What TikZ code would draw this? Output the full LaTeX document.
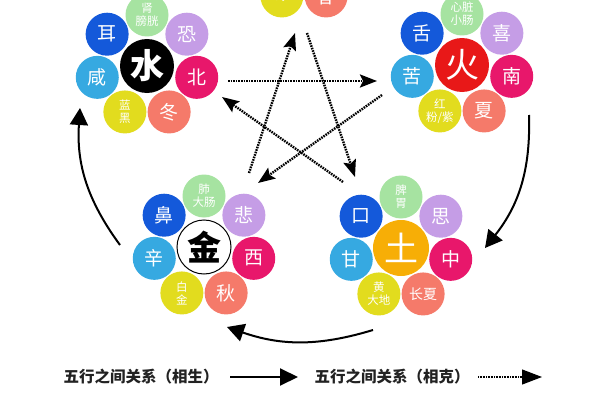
\documentclass[tikz,border=0pt]{standalone}
\usepackage{fontspec}
\setmainfont{Noto Sans CJK SC}
\usetikzlibrary{arrows.meta}
\definecolor{cgreen}{HTML}{A6E3A1}
\definecolor{cpurple}{HTML}{C59DE6}
\definecolor{cpink}{HTML}{E8176B}
\definecolor{csalmon}{HTML}{F57A6A}
\definecolor{cyellow}{HTML}{E2DC1E}
\definecolor{ccyan}{HTML}{36A9E1}
\definecolor{cblue}{HTML}{1459DA}
\definecolor{cred}{HTML}{E81818}
\definecolor{corange}{HTML}{F7AE06}
\definecolor{ctext}{HTML}{222222}
\begin{document}
\begin{tikzpicture}[x=1pt,y=1pt,
  sat/.style={circle, minimum size=43pt, inner sep=0pt, text=white,
    font=\fontsize{19}{19}\selectfont, align=center},
  two/.style={font=\fontsize{11.5}{13}\selectfont},
  mid/.style={font=\fontsize{14}{14}\selectfont},
  core/.style={circle, minimum size=54pt, inner sep=0pt, text=white,
    font=\fontsize{34}{34}\selectfont},
  solidarr/.style={line width=2pt, -{Triangle[length=17pt,width=18pt]}},
  dotarr/.style={line width=2.4pt, dash pattern=on 1.6pt off 1.0pt,
    -{Stealth[length=17pt,width=13pt,inset=3pt]}},
  legtext/.style={text=ctext, font=\fontsize{15.5}{15.5}\selectfont\bfseries}
]
\useasboundingbox (0,0) rectangle (600,400);
\fill[white] (0,0) rectangle (600,400);
\clip (0,0) rectangle (600,400);

% ---------- Water cluster ----------
\node[core, fill=black, font=\fontsize{34}{34}\selectfont\bfseries] (W) at (147,334) {水};
\node[sat, fill=cgreen, two]   (W1) at ([shift={(90:51)}]W) {肾\\膀胱};
\node[sat, fill=cpurple]       (W2) at ([shift={(38.57:51)}]W) {恐};
\node[sat, fill=cpink]         (W3) at ([shift={(-12.86:51)}]W) {北};
\node[sat, fill=csalmon]       (W4) at ([shift={(-64.29:51)}]W) {冬};
\node[sat, fill=cyellow, two]  (W5) at ([shift={(-115.71:51)}]W) {蓝\\黑};
\node[sat, fill=ccyan]         (W6) at ([shift={(-167.14:51)}]W) {咸};
\node[sat, fill=cblue]         (W7) at ([shift={(141.43:51)}]W) {耳};

% ---------- Fire cluster ----------
\node[core, fill=cred] (F) at (462,335) {火};
\node[sat, fill=cgreen, two]   (F1) at ([shift={(90:51)}]F) {心脏\\小肠};
\node[sat, fill=cpurple]       (F2) at ([shift={(38.57:51)}]F) {喜};
\node[sat, fill=cpink]         (F3) at ([shift={(-12.86:51)}]F) {南};
\node[sat, fill=csalmon]       (F4) at ([shift={(-64.29:51)}]F) {夏};
\node[sat, fill=cyellow, two]  (F5) at ([shift={(-115.71:51)}]F) {红\\粉/紫};
\node[sat, fill=ccyan]         (F6) at ([shift={(-167.14:51)}]F) {苦};
\node[sat, fill=cblue]         (F7) at ([shift={(141.43:51)}]F) {舌};

% ---------- Metal cluster ----------
\node[core, fill=white, draw=black, line width=1pt, text=black,
  font=\fontsize{34}{34}\selectfont\bfseries] (M) at (204,153) {金};
\node[sat, fill=cgreen, two]   (M1) at ([shift={(90:51)}]M) {肺\\大肠};
\node[sat, fill=cpurple]       (M2) at ([shift={(38.57:51)}]M) {悲};
\node[sat, fill=cpink]         (M3) at ([shift={(-12.86:51)}]M) {西};
\node[sat, fill=csalmon]       (M4) at ([shift={(-64.29:51)}]M) {秋};
\node[sat, fill=cyellow, two]  (M5) at ([shift={(-115.71:51)}]M) {白\\金};
\node[sat, fill=ccyan]         (M6) at ([shift={(-167.14:51)}]M) {辛};
\node[sat, fill=cblue]         (M7) at ([shift={(141.43:51)}]M) {鼻};

% ---------- Earth cluster ----------
\node[core, fill=corange, minimum size=56pt] (E) at (401,152) {土};
\node[sat, fill=cgreen, two]   (E1) at ([shift={(90:51)}]E) {脾\\胃};
\node[sat, fill=cpurple]       (E2) at ([shift={(38.57:51)}]E) {思};
\node[sat, fill=cpink]         (E3) at ([shift={(-12.86:51)}]E) {中};
\node[sat, fill=csalmon, mid]  (E4) at ([shift={(-64.29:51)}]E) {长夏};
\node[sat, fill=cyellow, two]  (E5) at ([shift={(-115.71:51)}]E) {黄\\大地};
\node[sat, fill=ccyan]         (E6) at ([shift={(-167.14:51)}]E) {甘};
\node[sat, fill=cblue]         (E7) at ([shift={(141.43:51)}]E) {口};

% ---------- Wood cluster (mostly off the top edge) ----------
\coordinate (T) at (304,450);
\node[sat, fill=cyellow, two] (T5) at ([shift={(-115.71:51)}]T) {\raisebox{-7pt}{绿}};
\node[sat, fill=csalmon]      (T4) at ([shift={(-64.29:51)}]T) {春};

% ---------- Generating cycle (solid) ----------
\coordinate (a1) at (120,155); \coordinate (b1) at (80,292);
\coordinate (a2) at (529,285); \coordinate (b2) at (485,152);
\coordinate (a3) at (373,70);  \coordinate (b3) at (227,73);
\draw[solidarr] (a1) to[bend left=20] (b1);
\draw[solidarr] (a2) to[bend left=20] (b2);
\draw[solidarr] (a3) to[bend left=18] (b3);

% ---------- Overcoming star (dotted) ----------
\coordinate (d1a) at (228,319); \coordinate (d1b) at (377,319);
\coordinate (d2a) at (382,305); \coordinate (d2b) at (258,217);
\coordinate (d3a) at (249,227); \coordinate (d3b) at (295,367);
\coordinate (d4a) at (307,367); \coordinate (d4b) at (355,223);
\coordinate (d5a) at (343,218); \coordinate (d5b) at (222,303);
\draw[dotarr] (d1a) -- (d1b);
\draw[dotarr] (d2a) -- (d2b);
\draw[dotarr] (d3a) -- (d3b);
\draw[dotarr] (d4a) -- (d4b);
\draw[dotarr] (d5a) -- (d5b);

% ---------- Legend ----------
\node[legtext] (L1) at (141,23) {五行之间关系（相生）};
\coordinate (l1a) at (230,23); \coordinate (l1b) at (298,23);
\draw[line width=2pt, -{Triangle[length=18pt,width=17pt]}] (l1a) -- (l1b);
\node[legtext] (L2) at (392,23) {五行之间关系（相克）};
\coordinate (l2a) at (478,23); \coordinate (l2b) at (542,23);
\draw[line width=1.1pt, dash pattern=on 1pt off 0.6pt,
  -{Triangle[length=20pt,width=15pt]}] (l2a) -- (l2b);
\end{tikzpicture}
\end{document}
